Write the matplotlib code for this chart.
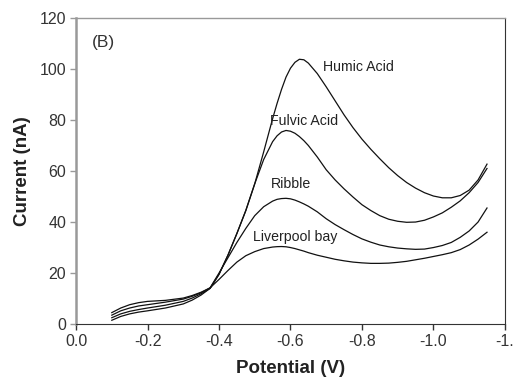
import numpy as np
import matplotlib
matplotlib.use("Agg")
import matplotlib.pyplot as plt

plt.rcParams['font.family'] = ['Liberation Sans', 'DejaVu Sans']

# potential (V), shared by all curves
potential = [-0.10, -0.125, -0.15, -0.175, -0.20, -0.25, -0.30, -0.325, -0.35, -0.375,
             -0.40, -0.425, -0.45, -0.475, -0.50, -0.525, -0.55, -0.5625, -0.575, -0.5875,
             -0.60, -0.6125, -0.625, -0.6375, -0.65, -0.675, -0.70, -0.725, -0.75, -0.775,
             -0.80, -0.825, -0.85, -0.875, -0.90, -0.925, -0.95, -0.975, -1.00, -1.025,
             -1.05, -1.075, -1.10, -1.125, -1.15]

# current (nA)
humic = [1.5, 3.0, 4.0, 4.7, 5.2, 6.3, 7.9, 9.4, 11.4, 14.0,
         19.5, 27, 35.5, 44.5, 55, 67.5, 80.5, 86.5, 92, 96.8,
         100.3, 102.6, 103.8, 103.6, 102.3, 98.2, 93, 87.5, 82, 77,
         72.5, 68.5, 64.8, 61.3, 58.2, 55.5, 53.3, 51.5, 50.2, 49.5,
         49.5, 50.4, 52.5, 56.5, 62.7]
fulvic = [2.5, 4.0, 5.0, 5.7, 6.3, 7.4, 8.9, 10.2, 11.9, 14.0,
          19.5, 27, 35.5, 44.5, 55, 64.5, 71.5, 73.8, 75.3, 75.9,
          75.6, 74.8, 73.5, 71.9, 70, 65.5, 60.5, 56.5, 53, 49.8,
          46.8, 44.5, 42.5, 41.1, 40.3, 39.9, 40, 40.7, 42, 43.6,
          45.8, 48.3, 51.5, 55.5, 61]
ribble = [3.5, 5.2, 6.3, 7.1, 7.6, 8.6, 9.8, 10.9, 12.3, 14.2,
          20, 26, 32, 37.5, 42.5, 46, 48.2, 48.9, 49.2, 49.3,
          49.1, 48.6, 47.9, 47.1, 46.2, 44, 41.3, 39, 37, 35.1,
          33.4, 32.1, 31, 30.3, 29.8, 29.5, 29.3, 29.4, 30, 30.8,
          32, 34, 36.5, 40, 45.5]
liverpool = [4.5, 6.3, 7.6, 8.4, 8.9, 9.3, 10.2, 11.2, 12.5, 14.2,
             17.5, 21, 24.3, 26.8, 28.4, 29.6, 30.2, 30.35, 30.4, 30.3,
             30, 29.6, 29.1, 28.6, 28, 27, 26.2, 25.4, 24.8, 24.3,
             24, 23.8, 23.8, 23.9, 24.2, 24.6, 25.2, 25.8, 26.5, 27.2,
             28, 29.2, 31, 33.3, 36]

xticks = [0.0, -0.2, -0.4, -0.6, -0.8, -1.0, -1.2]
xtick_labels = ["0.0", "-0.2", "-0.4", "-0.6", "-0.8", "-1.0", "-1."]
yticks = [0, 20, 40, 60, 80, 100, 120]

fig = plt.figure(figsize=(5.32, 3.9), dpi=100)
ax = fig.add_axes([0.143, 0.169, 0.806, 0.785])

for cur in [humic, fulvic, ribble, liverpool]:
    ax.plot(potential, cur, color='#111111', lw=0.9)

ax.set_xlim(0.0, -1.2)
ax.set_ylim(0, 120)
ax.set_xticks(xticks)
ax.set_xticklabels(xtick_labels)
ax.set_yticks(yticks)
ax.tick_params(axis='both', labelsize=11.5, colors='#333333', length=4, width=1,
               direction='out', pad=3)
ax.tick_params(axis='y', color='#999999')

for side in ['left', 'top']:
    ax.spines[side].set_color('#999999')
ax.spines['left'].set_linewidth(1.8)
ax.spines['top'].set_linewidth(1.0)
ax.spines['right'].set_color('#333333')
ax.spines['bottom'].set_color('#333333')

ax.set_xlabel("Potential (V)", fontsize=13.5, fontweight='bold', color='#222222', labelpad=8)
ax.set_ylabel("Current (nA)", fontsize=13.5, fontweight='bold', color='#222222', labelpad=6)

lab = dict(fontsize=10.2, color='#222222', ha='left', va='center')
ax.text(-0.691, 100.8, "Humic Acid", **lab)
ax.text(-0.543, 79.6, "Fulvic Acid", **lab)
ax.text(-0.545, 54.9, "Ribble", **lab)
ax.text(-0.495, 34.1, "Liverpool bay", **lab)
ax.text(-0.045, 110.2, "(B)", fontsize=12.5, color='#333333', ha='left', va='center')

fig.savefig("out.png", dpi=100)
